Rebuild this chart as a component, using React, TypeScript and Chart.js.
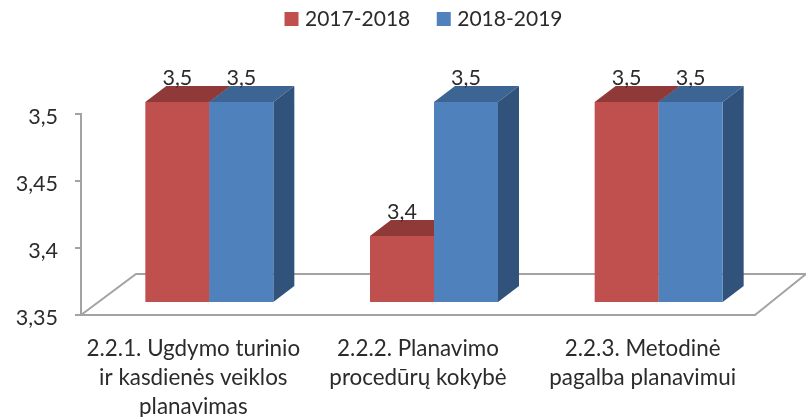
import React, { useEffect, useRef } from "react";
import { Chart, registerables } from "chart.js";

Chart.register(...registerables);

const categories = [
  ["2.2.1. Ugdymo turinio", "ir kasdienės veiklos", "planavimas"],
  ["2.2.2. Planavimo", "procedūrų kokybė"],
  ["2.2.3. Metodinė", "pagalba planavimui"],
];
const series1 = [3.5, 3.4, 3.5];
const series2 = [3.5, 3.5, 3.5];
const seriesNames = ["2017-2018", "2018-2019"];
const tickValues = [3.35, 3.4, 3.45, 3.5];

const FONT = "Lato, Carlito, Calibri, sans-serif";
const TEXT = "#2b2b2b";
const AXIS = "#a3a3a3";
const SHIFT = { x: 16, y: -12 };
const DEPTH = { x: 21, y: -16 };
const FLOOR = { left: 55, right: 51, y: -41 };
const faces = [
  { top: "#8F3A38", side: "#8A3735" },
  { top: "#3D6594", side: "#31527B" },
];
const fmt = (v: number) => String(Math.round(v * 100) / 100).replace(".", ",");

const bars3d = {
  id: "bars3d",
  beforeLayout(chart: any) {
    const legend = chart.legend;
    if (legend && !legend.__patched) {
      const orig = legend.fit;
      legend.fit = function () {
        orig.call(this);
        this.height = 114;
      };
      legend.__patched = true;
    }
  },
  afterLayout(chart: any) {
    chart.legend.top = -22;
    chart.legend.left += 48;
    chart.legend.right += 48;
  },
  beforeDatasetsDraw(chart: any) {
    const { ctx, chartArea: a } = chart;
    ctx.save();
    ctx.strokeStyle = AXIS;
    ctx.lineWidth = 2;
    ctx.beginPath();
    ctx.moveTo(a.left, a.bottom);
    ctx.lineTo(a.left + FLOOR.left, a.bottom + FLOOR.y);
    ctx.lineTo(a.right + FLOOR.right, a.bottom + FLOOR.y);
    ctx.lineTo(a.right, a.bottom);
    ctx.stroke();
    ctx.restore();

    // Draw series in data order so each blue bar covers its red neighbour's side.
    chart.data.datasets.forEach((_: any, i: number) => {
      const meta = chart.getDatasetMeta(i);
      const f = faces[i];
      ctx.save();
      ctx.translate(SHIFT.x, SHIFT.y);
      meta.data.forEach((bar: any) => {
        const l = bar.x - bar.width / 2;
        const r = bar.x + bar.width / 2;
        ctx.fillStyle = f.top;
        ctx.beginPath();
        ctx.moveTo(l, bar.y);
        ctx.lineTo(l + DEPTH.x, bar.y + DEPTH.y);
        ctx.lineTo(r + DEPTH.x, bar.y + DEPTH.y);
        ctx.lineTo(r, bar.y);
        ctx.closePath();
        ctx.fill();
        ctx.fillStyle = f.side;
        ctx.beginPath();
        ctx.moveTo(r, bar.y);
        ctx.lineTo(r + DEPTH.x, bar.y + DEPTH.y);
        ctx.lineTo(r + DEPTH.x, bar.base + DEPTH.y);
        ctx.lineTo(r, bar.base);
        ctx.closePath();
        ctx.fill();
      });
      meta.controller.draw();
      ctx.restore();
    });
  },
  beforeDatasetDraw() {
    return false;
  },
  afterDatasetsDraw(chart: any) {
    const { ctx } = chart;
    ctx.save();
    ctx.font = `21.5px ${FONT}`;
    ctx.fillStyle = TEXT;
    ctx.textAlign = "center";
    ctx.textBaseline = "middle";
    chart.data.datasets.forEach((ds: any, i: number) => {
      chart.getDatasetMeta(i).data.forEach((bar: any, j: number) => {
        ctx.fillText(fmt(ds.data[j]), bar.x + SHIFT.x, bar.y + SHIFT.y - 24);
      });
    });
    ctx.restore();
  },
};

export default function App() {
  const ref = useRef<HTMLCanvasElement>(null);
  useEffect(() => {
    const chart = new Chart(ref.current as HTMLCanvasElement, {
      type: "bar",
      data: {
        labels: categories,
        datasets: [
          { label: seriesNames[0], data: series1, backgroundColor: "#C0504D", base: 3.35 },
          { label: seriesNames[1], data: series2, backgroundColor: "#4F81BD", base: 3.35 },
        ],
      } as any,
      options: {
        responsive: false,
        animation: false,
        layout: { padding: { right: 51 } },
        datasets: { bar: { categoryPercentage: 128 / 224.67, barPercentage: 1 } },
        plugins: {
          tooltip: { enabled: false },
          legend: {
            position: "top",
            labels: {
              boxWidth: 6,
              boxHeight: 6,
              padding: 30.5,
              color: TEXT,
              font: { family: FONT, size: 21 },
              generateLabels: (chart: any) =>
                Chart.defaults.plugins.legend.labels.generateLabels(chart).map((item: any) => ({
                  ...item,
                  strokeStyle: item.fillStyle,
                  lineWidth: 8,
                })),
            },
          },
        },
        scales: {
          x: {
            grid: { display: false },
            border: { color: AXIS, width: 2 },
            ticks: {
              color: TEXT,
              font: { family: FONT, size: 22.4, lineHeight: 1.3 },
              padding: 11,
              maxRotation: 0,
              autoSkip: false,
            },
            afterFit: (s: any) => {
              s.height = 102;
            },
          },
          y: {
            min: 3.35,
            max: 3.5,
            afterBuildTicks: (s: any) => {
              s.ticks = tickValues.map((value) => ({ value }));
            },
            grid: { drawOnChartArea: false, tickLength: 6, color: AXIS, lineWidth: 2 },
            border: { color: AXIS, width: 2 },
            ticks: {
              color: TEXT,
              font: { family: FONT, size: 21.5 },
              padding: 17,
              labelOffset: 3,
              callback: (v: any) => fmt(Number(v)),
            },
            afterFit: (s: any) => {
              s.width = 81;
            },
          },
        },
      },
      plugins: [bars3d],
    } as any);
    return () => chart.destroy();
  }, []);
  return (
    <div style={{ position: "absolute", left: 0, top: 0, width: 806, height: 417, background: "#fff" }}>
      <canvas ref={ref} width={806} height={417} style={{ display: "block" }} />
    </div>
  );
}
